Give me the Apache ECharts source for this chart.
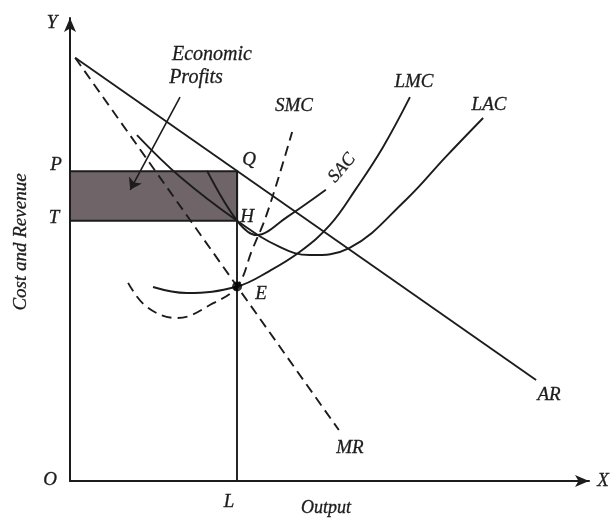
<!DOCTYPE html>
<html>
<head>
<meta charset="utf-8">
<script src="https://cdn.jsdelivr.net/npm/echarts@6/dist/echarts.min.js"></script>
<style>html,body{margin:0;padding:0;background:#fff}#c{width:612px;height:518px}</style>
</head>
<body>
<div id="c"></div>
<script>
// ---- data (abstract units: output on x, cost/revenue on y) ----
const arLine   = [[1, 91.4], [89.8, 21.8]];
const mrLine   = [[1, 91.4], [51.8, 11.0]];
const lacCurve = [[12.9,74.7],[21.2,65.7],[32.2,56.2],[40.5,50.5],[46.2,48.8],[53.8,50.3],[64.7,60.7],[72.4,70.0],[79.6,78.4]];
const sacCurve = [[26.4,67.0],[32.2,56.2],[36.0,53.1],[41.8,57.0],[49.3,62.9]];
const lmcCurve = [[16.0,41.9],[22.5,40.6],[32.2,42.0],[38.5,45.4],[44.3,49.5],[50.1,55.3],[55.1,63.1],[60.3,72.1],[65.5,82.9]];
const smcCurve = [[11.2,42.8],[14.8,37.6],[20.6,35.2],[27.6,38.4],[32.2,42.0],[35.1,49.9],[38.0,57.9],[42.8,75.4]];
const outputL = 32.2;
const priceP  = 66.9;
const costT   = 56.2;
const pointE  = [32.2, 42.0];
const profitArrow = [[21.2, 82.9], [11.6, 62.9]];

const ink = '#1c1c1c';
const serif = '"Liberation Serif", "Times New Roman", serif';
function txt(t, x, y, size, opts) {
  opts = opts || {};
  return {
    type: 'text', x: x, y: y, rotation: opts.rot || 0, z: 100,
    style: {
      text: t, fill: ink, stroke: ink, lineWidth: 0.3,
      font: 'italic ' + size + 'px ' + serif,
      textAlign: opts.align || 'center', textVerticalAlign: 'middle'
    }
  };
}

const chart = echarts.init(document.getElementById('c'));
const lineBase = (data, dashed, smooth) => ({
  type: 'line', data: data, symbol: 'none', smooth: smooth || false,
  lineStyle: { color: ink, width: 1.9, type: dashed ? [10, 6] : 'solid' },
  z: 5, silent: true
});

chart.setOption({
  animation: false,
  grid: { left: 70, right: 23, top: 18, bottom: 37 },
  xAxis: {
    type: 'value', min: 0, max: 100,
    axisLine: { show: true, symbol: ['none', 'arrow'], symbolSize: [9, 14], lineStyle: { color: ink, width: 2 } },
    axisTick: { show: false }, axisLabel: { show: false }, splitLine: { show: false }
  },
  yAxis: {
    type: 'value', min: 0, max: 100,
    axisLine: { show: true, symbol: ['none', 'arrow'], symbolSize: [9, 14], lineStyle: { color: ink, width: 2 } },
    axisTick: { show: false }, axisLabel: { show: false }, splitLine: { show: false }
  },
  series: [
    {
      type: 'line', data: [], z: 1,
      markArea: {
        silent: true,
        itemStyle: { color: '#6f6568', borderColor: ink, borderWidth: 2 },
        data: [[{ coord: [0, costT] }, { coord: [outputL, priceP] }]]
      },
      markLine: {
        silent: true, symbol: ['none', 'none'], label: { show: false },
        lineStyle: { color: ink, width: 1.9, type: 'solid' },
        data: [[{ coord: [outputL, 0] }, { coord: [outputL, priceP] }]]
      }
    },
    {
      type: 'line', data: [], z: 6,
      markLine: {
        silent: true, symbol: ['none', 'arrow'], symbolSize: 11, label: { show: false },
        lineStyle: { color: ink, width: 1.6, type: 'solid' },
        data: [[{ coord: profitArrow[0] }, { coord: profitArrow[1] }]]
      }
    },
    lineBase(arLine, false),
    lineBase(mrLine, true),
    lineBase(lacCurve, false, 0.4),
    lineBase(sacCurve, false, 0.35),
    lineBase(lmcCurve, false, 0.4),
    lineBase(smcCurve, true, 0.4),
    {
      type: 'scatter', data: [pointE], symbolSize: 10,
      itemStyle: { color: '#000' }, z: 10, silent: true
    }
  ],
  graphic: [
    txt('Y', 52, 23, 19),
    txt('Economic', 212, 55, 20),
    txt('Profits', 196, 78, 20),
    txt('SMC', 294, 106, 19),
    txt('LMC', 414, 82, 19),
    txt('LAC', 489, 105, 19),
    txt('SAC', 342, 168, 18, { rot: Math.PI * 50 / 180 }),
    txt('Q', 249, 160, 19),
    txt('H', 247, 217, 19),
    txt('E', 261, 294, 19),
    txt('P', 56, 165, 19),
    txt('T', 54, 218, 19),
    txt('Cost and Revenue', 21, 242, 19, { rot: Math.PI / 2 }),
    txt('O', 50, 480, 19),
    txt('L', 229, 502, 19),
    txt('Output', 326, 508, 18),
    txt('X', 603, 481, 19),
    txt('AR', 549, 395, 19),
    txt('MR', 350, 448, 19)
  ]
});
</script>
</body>
</html>
